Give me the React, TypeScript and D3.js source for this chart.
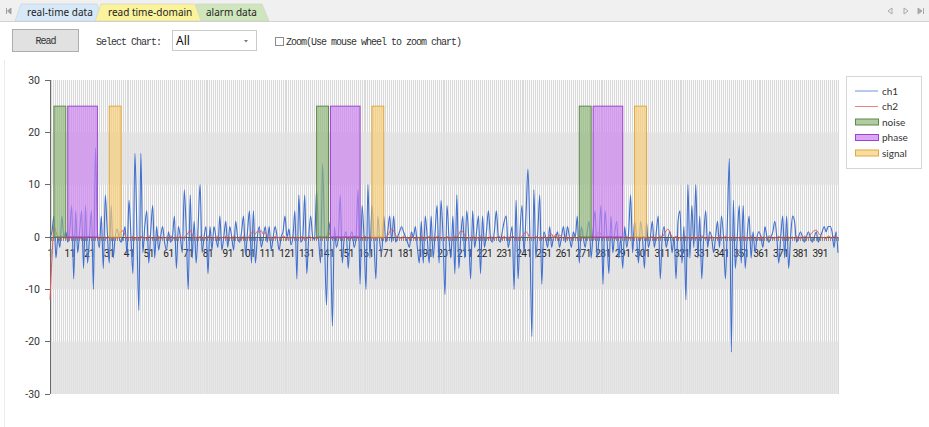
import React from "react";
import * as d3 from "d3";

// ---------- data ----------
const ch1: number[] = [
  0, 1, 4, -4, 0, -2, 4, 0, 1, -1,
  1, 6, -8, 5, -3, 1, 5, -6, 6, -5,
  0, 5, -10, 17, 1, -2, 4, -6, 8, 1,
  -5, 6, -4, 0, 1.5, 0, -1, 0, 2, -3.4,
  7, 0, -7, 16, 1, -14, 16, -3, 2, 5,
  -5, 1, 6, -4, 2, -2.5, 0, 2, -1, -2.5,
  1, -1, 0, 4, -6, 2, 0, -3, 9, 1,
  -10, 8, -4, 3, -5, 2, 10, -3, 0, 2,
  -7, 2, -2.5, 2, 0, -2, 4, -2.5, 0, 3,
  -2, 2, 0, -2.5, 3, 0, -1, 1, 4, -3.4,
  1, 5, -5, 5, -5, 0, 2, -2, 0, 2,
  -1, 2, -2.5, 0, 2, 0, -2.5, 0, 1, 4,
  0, 1.5, -1.5, 0, 5, -8, 8, -1, 0, 8,
  -7, 0, 4, 0, -0.5, 9, 0, -5, 14, 0,
  -13, 3, 0, -17, 2, -2, 0, 8, -5, 0,
  1, -6, 0, 1, -2, 0, 9, -9, 6, 0,
  -10, 10, -4, 6, 0, -8, 4, -1, -3, 4,
  -1, 1, 4, -1, 4, -1, 0, 1, 2, 1,
  0, -1, -2, 1, 0, 2, -2, -5, 3, -5,
  4, 0, -5, 4, -4, 1, 6, -5, 7, 0,
  -11, 6, 0, -4, 4, -7, 8, -6, 0, 4,
  -4, 5, 0, -8, 5, -2, 1, 4, -7, 4,
  -2, 1, 5, 0, -1, 1, 5, 0, -1, 1,
  3, 4, -2, 0, 2, -10, 7, -8, 1, 6,
  -3, 4, 13, 0, -19, 9, -4, 1, 8, -9,
  1, 0, -2, 2, -2, 0, 0, 1, -2, 0,
  2, -1, 2, 0, -2, 1, 0, 4, -5, 2,
  0, -2, 1, 3, -4, 1, 5, -4, 0, 6,
  -9, 5, 0, -7, 4, -3, 1, 3, -4, 0,
  -6, 2, -2, 1, 8, -3, 3, 0, -5, 3,
  0, -6, 3, -2, 0, 3, -2, 1, 4, -8,
  0, 2, -2, 0, 1, -3, 0, -8, 3, 5,
  -5, 2, -12, 10, -4, 6, -2, 10, -4, 4,
  -8, 0, 5, -2, 1, 0, -3, 0, 3, -2,
  4, 0, -8, 3, 15, -22, 7, -6, 0, 6,
  -5, 6, -6, 0, 4, -4, 1, -3, 0, 1,
  0, -2, 2, 0, -1, 0, 1, 3, 0, -5,
  0, 4, -4, 4, -6, 0, 4, 3, -1, 0,
  1, 0, -1, 0, 1, 0, -1, 0, 1, -1,
  0, 1, 2, 1, 2, 2, 1, -2, 1, -3,
];

const ch2: number[] = [
  -12, -4, 2, 1, 0, -0.5, 0, -0.3, 0.2, -0.5, 0, -0.4, 0.2, -0.3, 0, -0.5, 0.2, 0, -0.4, 0,
  0.2, -0.4, 0, -0.3, 0.2, -0.5, 0, -0.3, 0, -0.4, 0.2, 0, -0.5, 0, -0.3, 0.3, 1, 1.2, 0.3, -0.4,
  0, -0.3, 0.2, -0.5, 0, -0.4, 0.2, -0.3, 0, -0.5, 0.2, 0, -0.4, 0, -0.3, 0.2, -0.5, 0, -0.3, 0,
  -0.4, 0.2, 0, -0.5, 0, -0.3, 0.2, -0.4, 0, 0.3, 0.8, 1.3, 0.5, -0.3, 0, -0.5, 0.2, -0.3, 0, -0.4,
  0.2, 0, -0.5, 0, -0.3, 0.2, -0.4, 0, -0.3, 0.2, -0.5, 0, -0.4, 0.2, 0, -0.3, 0, -0.5, 0.2, 0,
  -0.4, 0.3, 0.8, 1, 0.6, 1.1, 0.9, 1.2, 0.5, 0.9, 0.3, -0.3, 0, -0.5, 0.2, -0.3, 0, -0.4, 0.2, 0,
  -0.5, 0, -0.3, 0.2, -0.4, 0, -0.3, 0.2, -0.5, 0, -0.4, 0.2, 0, -0.3, 0, -0.5, 0.2, -0.3, 0, -0.4,
  0.2, 0.9, 0.3, -0.5, 0, -0.3, 0.2, -0.4, 0, -0.3, 0.2, -0.5, 0, -0.4, 0.2, 0, -0.3, 0, -0.5, 0.2,
  0, -0.4, 0.2, -0.3, 0, -0.5, 0.2, 0, -0.4, 0, -0.3, 0.3, 1, 1.5, 1.2, 0.4, -0.3, 0, -0.4, 0.2,
  -0.3, 0, -0.5, 0.2, 0, -0.4, 0, -0.3, 0.2, -0.5, 0, -0.4, 0.2, -0.3, 0, -0.5, 0.2, 0, -0.4, 0,
  -0.3, 0.2, -0.5, 0, -0.4, 0.2, 0, 0.5, 1.2, 1, 0.3, -0.4, 0, -0.3, 0.2, -0.5, 0, -0.4, 0.2, 0,
  -0.3, 0, -0.5, 0.2, -0.4, 0, -0.3, 0.2, 0, -0.5, 0.2, -0.3, 0, -0.4, 0.2, 0, -0.5, 0, -0.3, 0.2,
  0.5, 1, 0.6, -0.3, 0, -0.4, 0.2, -0.3, 0, -0.5, 0.2, 0, -0.4, 0.3, 0.6, -0.3, 0.5, -0.4, 0.4, 0,
  -0.3, 0.2, -0.5, 0, -0.4, 0.2, 0, -0.3, 0, -0.5, 0.2, -0.4, 0, -0.3, 0.2, 0, -0.5, 0.5, 1, 0.4,
  -0.3, 0, -0.4, 0.2, -0.3, 0, -0.5, 0.2, 0, -0.4, 0, -0.3, 0.2, -0.5, 0, -0.4, 0.2, -0.3, 0, -0.5,
  0.2, 0, -0.4, 0, -0.3, 0.2, -0.5, 0, -0.4, 0.2, 0, 0.6, 1.2, 1.5, 0.8, 0, -0.3, 0.2, -0.5, 0,
  -0.4, 0.2, 0, -0.3, 0, -0.5, 0.2, -0.4, 0, -0.3, 0.2, 0, -0.5, 0, -0.4, 0.2, -0.3, 0, -0.5, 0.2,
  0, -0.4, 0.2, -0.3, 0, -0.5, 0.2, 0, -0.4, 0, -0.3, 0.2, -0.5, 0, -0.4, 0.2, 0, -0.3, 0, -0.5,
  0.2, -0.4, 0, -0.3, 0.2, 0, -0.5, 0, -0.4, 0.2, -0.3, 0, -0.5, 0.2, 0, -0.4, 0, -0.3, 0.2, -0.5,
  0, -0.4, 0.2, 0, -0.3, 0.4, 0.9, 1.2, 1.3, 0.8, 0.4, -0.3, 0, -0.4, 0.2, 0, -0.3, 0.2, 0, -0.3,
];

const categories: number[] = ch1.map((_, i) => i + 1);
const xTickLabels: string[] = [
  "1", "11", "21", "31", "41", "51", "61", "71", "81", "91",
  "101", "111", "121", "131", "141", "151", "161", "171", "181", "191",
  "201", "211", "221", "231", "241", "251", "261", "271", "281", "291",
  "301", "311", "321", "331", "341", "351", "361", "371", "381", "391",
];
const yTicks: number[] = [-30, -20, -10, 0, 10, 20, 30];
const shadedBands: [number, number][] = [[10, 20], [-10, 0], [-30, -20]];
const alarmLevel = 25;
const noiseRanges: [number, number][] = [[3, 9], [136, 142], [269, 275]];
const phaseRanges: [number, number][] = [[10, 25], [143, 158], [276, 291]];
const signalRanges: [number, number][] = [[31, 37], [164, 170], [297, 303]];
const legendNames: string[] = ["ch1", "ch2", "noise", "phase", "signal"];
const tabNames: string[] = ["real-time data", "read time-domain", "alarm data"];

export default function App() {
  const W = 929, H = 427;
  const L = 50, R = 838, T = 80, B = 394;
  const x = d3.scalePoint<number>().domain(categories).range([L, R]);
  const y = d3.scaleLinear().domain([-30, 30]).range([B, T]);
  const lineGen = (vals: number[]) =>
    d3.line<number>()
      .x((_, i) => x(categories[i]) as number)
      .y((d) => y(d))
      .curve(d3.curveMonotoneX)(vals) || "";

  const chartFont = "Roboto, 'Noto Sans', sans-serif";
  const legendFont = "Lato, 'Noto Sans', sans-serif";
  const uiFont = "'Liberation Mono', 'DejaVu Sans Mono', monospace";
  const tabFont = "'Noto Sans', 'Open Sans', sans-serif";

  const alarms = [
    { name: "noise", ranges: noiseRanges, fill: "#8fb67a", stroke: "#5e8a48" },
    { name: "phase", ranges: phaseRanges, fill: "#cc80f0", stroke: "#9a45cc" },
    { name: "signal", ranges: signalRanges, fill: "#f7cd78", stroke: "#e0a840" },
  ];
  const ch1Color = "#3f6fcf";
  const ch2Color = "#e05a5a";

  const legendColors: Record<string, { type: string; color: string; stroke?: string }> = {
    ch1: { type: "line", color: ch1Color },
    ch2: { type: "line", color: ch2Color },
    noise: { type: "rect", color: alarms[0].fill, stroke: alarms[0].stroke },
    phase: { type: "rect", color: alarms[1].fill, stroke: alarms[1].stroke },
    signal: { type: "rect", color: alarms[2].fill, stroke: alarms[2].stroke },
  };

  // index aligned with tabNames
  const tabShapes = [
    { pts: "15,21 21,4 97,4 103,21", fill: "#d7e8f8", tx: 27 },
    { pts: "95,21 101,4 195,4 201,21", fill: "#fbf29c", tx: 108 },
    { pts: "190,21 196,4 262,4 269,21", fill: "#cfe6bd", tx: 206 },
  ];
  const tabOrder = [0, 2, 1];

  return (
    <svg width={W} height={H} style={{ position: "absolute", left: 0, top: 0, background: "#fff" }}>
      {/* tab strip */}
      <rect x={0} y={0} width={W} height={21} fill="#f0f0f0" />
      <line x1={0} x2={W} y1={21.5} y2={21.5} stroke="#d2d2d2" />
      <path d="M6.5,8 V14 M11,8 L7.5,11 L11,14 Z" stroke="#a0a0a0" fill="#a0a0a0" strokeWidth={1} />
      {tabOrder.map((k) => (
        <g key={k}>
          <polygon points={tabShapes[k].pts} fill={tabShapes[k].fill} stroke="#cfcfcf" strokeWidth={0.6} />
          <text x={tabShapes[k].tx} y={15.5} fontFamily={tabFont} fontSize={10} fill="#1e1e1e">{tabNames[k]}</text>
        </g>
      ))}
      <path d="M892,8 L888,11 L892,14 Z" fill="none" stroke="#a8a8a8" />
      <path d="M904,8 L908,11 L904,14 Z" fill="none" stroke="#a8a8a8" />
      <path d="M918,8 L922,11 L918,14 Z M923.5,8 V14" fill="#a8a8a8" stroke="#a8a8a8" />

      {/* toolbar */}
      <rect x={12.5} y={29.5} width={66} height={22} fill="#e1e1e1" stroke="#adadad" />
      <text x={45.5} y={44} textAnchor="middle" fontFamily={uiFont} fontSize={10} letterSpacing={-1} fill="#333">Read</text>
      <text x={96} y={45} fontFamily={uiFont} fontSize={10} letterSpacing={-1} fill="#333">Select Chart:</text>
      <rect x={172.5} y={30.5} width={84} height={20} fill="#fff" stroke="#cacaca" />
      <text x={176} y={45} fontFamily={tabFont} fontSize={12} fill="#111">All</text>
      <path d="M244,40 L248,40 L246,42.5 Z" fill="#777" />
      <rect x={275.5} y={37.5} width={8} height={8} fill="#fff" stroke="#8c8c8c" />
      <text x={286} y={45} fontFamily={uiFont} fontSize={10} letterSpacing={-1} fill="#333">Zoom(Use mouse wheel to zoom chart)</text>

      {/* faint panel border */}
      <line x1={4.5} x2={4.5} y1={60} y2={H} stroke="#ececec" />

      {/* plot background */}
      <rect x={L} y={T} width={R - L} height={B - T} fill="#fbfbfb" />
      <g shapeRendering="crispEdges">
        {categories.map((c) => (
          <line key={c} x1={x(c)} x2={x(c)} y1={T} y2={B} stroke="#d9d9d9" strokeWidth={1} />
        ))}
      </g>
      {shadedBands.map(([a, b], i) => (
        <rect key={i} x={L} y={y(b)} width={R - L} height={y(a) - y(b)} fill="#e2e2e2" opacity={0.82} />
      ))}

      {/* x axis ticks & labels */}
      <g shapeRendering="crispEdges">
        {categories.map((c) => (
          <line key={c} x1={x(c)} x2={x(c)} y1={y(0)} y2={y(0) + 4} stroke="#8a8a8a" />
        ))}
      </g>
      {xTickLabels.map((t) => (
        <text key={t} x={x(+t)} y={256.5} textAnchor="middle" fontFamily={chartFont} fontSize={10} letterSpacing={-0.4} fill="#222">{t}</text>
      ))}

      {/* y axis */}
      <line x1={L} x2={L} y1={T} y2={B} stroke="#6a6a6a" shapeRendering="crispEdges" />
      {yTicks.map((t) => (
        <g key={t}>
          <line x1={L - 5} x2={L} y1={y(t)} y2={y(t)} stroke="#6a6a6a" shapeRendering="crispEdges" />
          <text x={40} y={y(t) + 3.5} textAnchor="end" fontFamily={chartFont} fontSize={10.5} fill="#333">{t}</text>
        </g>
      ))}

      {/* series */}
      <path d={lineGen(ch1)} fill="none" stroke={ch1Color} strokeWidth={1.1} />
      <line x1={L} x2={R} y1={y(0)} y2={y(0)} stroke="#5a5a5a" strokeWidth={1} shapeRendering="crispEdges" />
      <path d={lineGen(ch2)} fill="none" stroke={ch2Color} strokeWidth={1} />

      {/* alarm range bars */}
      {alarms.map((a) =>
        a.ranges.map(([s, e], i) => (
          <rect
            key={a.name + i}
            x={x(s)}
            y={y(alarmLevel)}
            width={(x(e) as number) - (x(s) as number)}
            height={y(0) - y(alarmLevel)}
            fill={a.fill}
            fillOpacity={0.68}
            stroke={a.stroke}
            strokeWidth={1}
          />
        ))
      )}

      {/* legend */}
      <rect x={846.5} y={76.5} width={75} height={92} fill="#fff" stroke="#d6d6d6" />
      {legendNames.map((n, i) => {
        const cy = 91 + i * 15.5;
        const spec = legendColors[n];
        return (
          <g key={n}>
            {spec.type === "line" ? (
              <line x1={855} x2={878} y1={cy} y2={cy} stroke={spec.color} strokeWidth={1} opacity={0.75} />
            ) : (
              <rect x={855.5} y={cy - 3} width={23} height={6} fill={spec.color} fillOpacity={0.7} stroke={spec.stroke} />
            )}
            <text x={882} y={cy + 3.5} fontFamily={legendFont} fontSize={10} fill="#333">{n}</text>
          </g>
        );
      })}
    </svg>
  );
}
